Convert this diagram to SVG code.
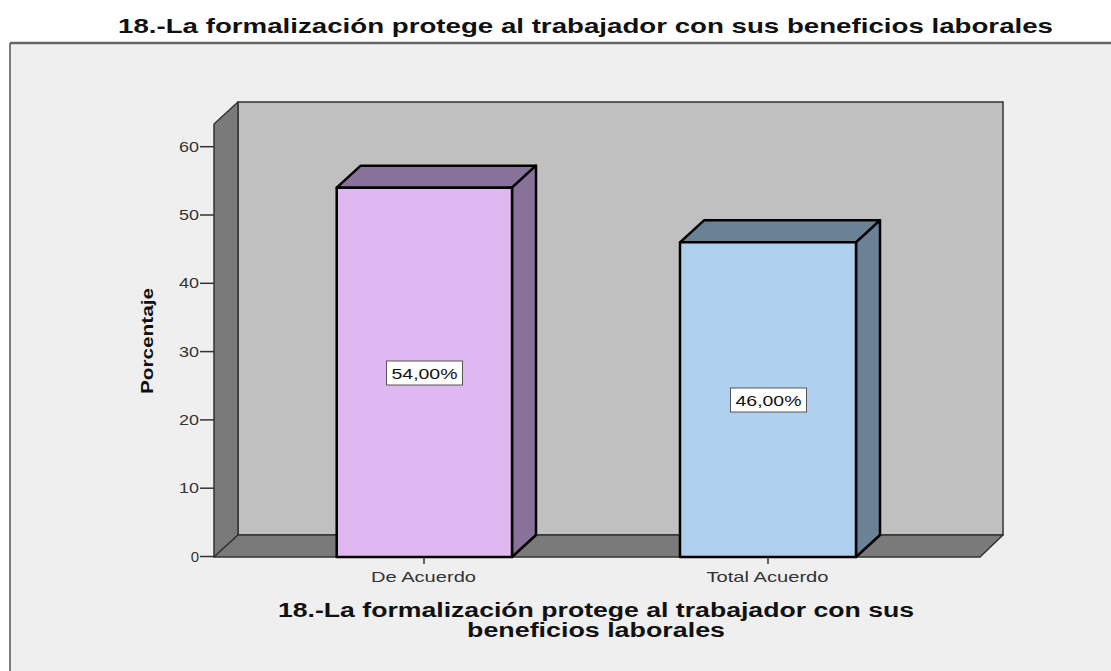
<svg xmlns="http://www.w3.org/2000/svg" width="1111" height="671" viewBox="0 0 1111 671">
<style>
.t{font-family:"Liberation Sans",Arial,sans-serif;fill:#111}
.b{font-weight:bold}
.wall{fill:#7a7a7a;stroke:#333;stroke-width:1.5;stroke-linejoin:round}
.back{fill:#c0c0c0;stroke:#333;stroke-width:1.5}
.bar{stroke:#000;stroke-width:2.5;stroke-linejoin:round}
.tick{stroke:#333;stroke-width:1.5}
.vbox{fill:#fff;stroke:#555;stroke-width:1}
.lab{font-size:15px;fill:#333}
</style>
<rect x="0" y="0" width="1111" height="671" fill="#fff"/>
<g id="frame">
<rect x="10" y="43" width="1110" height="640" fill="#efefef"/>
<line x1="10" y1="43" x2="1111" y2="43" stroke="#666" stroke-width="2.5"/>
<line x1="10" y1="43" x2="10" y2="671" stroke="#555" stroke-width="1.5"/>
</g>
<text id="title" class="t b" x="585.5" y="33" font-size="21" text-anchor="middle" textLength="935" lengthAdjust="spacingAndGlyphs">18.-La formalización protege al trabajador con sus beneficios laborales</text>
<g id="walls">
<rect class="back" x="238" y="102" width="765" height="433"/>
<polygon class="wall" points="214,124 238,102 238,535 214,557"/>
<polygon class="wall" points="214,557 238,535 1003,535 980,557"/>
</g>
<g id="yaxis">
<g class="tick">
<line x1="200" y1="556.5" x2="214" y2="556.5"/>
<line x1="200" y1="488.2" x2="214" y2="488.2"/>
<line x1="200" y1="419.9" x2="214" y2="419.9"/>
<line x1="200" y1="351.6" x2="214" y2="351.6"/>
<line x1="200" y1="283.3" x2="214" y2="283.3"/>
<line x1="200" y1="215" x2="214" y2="215"/>
<line x1="200" y1="146.7" x2="214" y2="146.7"/>
</g>
<g class="t lab" text-anchor="end">
<text x="199" y="561.5">0</text>
<text x="199" y="493.2" textLength="20" lengthAdjust="spacingAndGlyphs">10</text>
<text x="199" y="424.9" textLength="20" lengthAdjust="spacingAndGlyphs">20</text>
<text x="199" y="356.6" textLength="20" lengthAdjust="spacingAndGlyphs">30</text>
<text x="199" y="288.3" textLength="20" lengthAdjust="spacingAndGlyphs">40</text>
<text x="199" y="220" textLength="20" lengthAdjust="spacingAndGlyphs">50</text>
<text x="199" y="151.7" textLength="20" lengthAdjust="spacingAndGlyphs">60</text>
</g>
<text class="t b" x="0" y="0" font-size="17" text-anchor="middle" textLength="106" lengthAdjust="spacingAndGlyphs" transform="translate(153,341) rotate(-90)">Porcentaje</text>
</g>
<g id="bar-de-acuerdo">
<polygon class="bar" fill="#89729a" points="336.7,187.7 360.7,165.7 536,165.7 512,187.7"/>
<polygon class="bar" fill="#89729a" points="512,187.7 536,165.7 536,535 512,557"/>
<rect class="bar" fill="#dfb8f2" x="336.7" y="187.7" width="175.3" height="369.3"/>
<rect class="vbox" x="386.5" y="361" width="76" height="24"/>
<text class="t" x="424.5" y="378.5" font-size="15" text-anchor="middle" textLength="66" lengthAdjust="spacingAndGlyphs" fill="#000">54,00%</text>
</g>
<g id="bar-total-acuerdo">
<polygon class="bar" fill="#6b8196" points="680,242.3 704,220.3 880,220.3 856,242.3"/>
<polygon class="bar" fill="#6b8196" points="856,242.3 880,220.3 880,535 856,557"/>
<rect class="bar" fill="#aecfee" x="680" y="242.3" width="176" height="314.7"/>
<rect class="vbox" x="730.5" y="388" width="76" height="24"/>
<text class="t" x="768.5" y="405.5" font-size="15" text-anchor="middle" textLength="66" lengthAdjust="spacingAndGlyphs" fill="#000">46,00%</text>
</g>
<g id="xaxis">
<line class="tick" x1="424" y1="557" x2="424" y2="564"/>
<line class="tick" x1="768" y1="557" x2="768" y2="564"/>
<text class="t lab" x="423.5" y="581.5" text-anchor="middle" textLength="105" lengthAdjust="spacingAndGlyphs">De Acuerdo</text>
<text class="t lab" x="767.5" y="581.5" text-anchor="middle" textLength="122" lengthAdjust="spacingAndGlyphs">Total Acuerdo</text>
<text class="t b" x="596" y="616.5" font-size="20" text-anchor="middle" textLength="636" lengthAdjust="spacingAndGlyphs">18.-La formalización protege al trabajador con sus</text>
<text class="t b" x="596" y="636.5" font-size="20" text-anchor="middle" textLength="258" lengthAdjust="spacingAndGlyphs">beneficios laborales</text>
</g>
</svg>
